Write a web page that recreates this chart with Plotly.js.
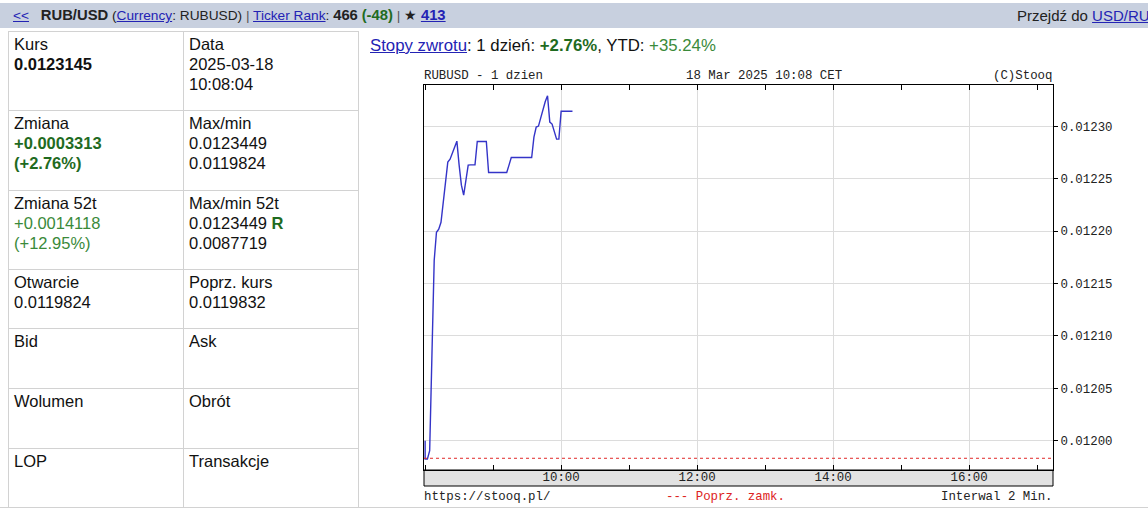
<!DOCTYPE html>
<html><head><meta charset="utf-8">
<script src="https://cdn.plot.ly/plotly-3.0.1.min.js"></script>
<style>
html,body{margin:0;padding:0;background:#fff;}
body{width:1148px;height:509px;position:relative;overflow:hidden;font-family:"Liberation Sans",Arial,sans-serif;color:#111;}
a{color:#2323b4;text-decoration:underline;}
#hdr{position:absolute;left:0;top:3px;width:1148px;height:25px;background:#c8d0df;font-size:13.7px;line-height:25px;white-space:nowrap;color:#222;}
#hdr b,#hdr .g1{font-size:14.8px;}
#hdr .l{position:absolute;left:13px;top:0;}
#hdr .r{position:absolute;left:1017px;top:0;font-size:15px;}
#hdr .sep{color:#555;}
table{position:absolute;left:8px;top:31px;border-collapse:collapse;font-size:16.5px;line-height:20px;table-layout:fixed;width:350px;}
td{border:1px solid #d2d2d2;vertical-align:top;padding:2px 5px 0 5px;overflow:hidden;white-space:nowrap;}
.g1{color:#1f6b1f;font-weight:bold;}
.g2{color:#3a8a3a;}
#stopy{position:absolute;left:370px;top:36px;font-size:16.8px;line-height:20px;white-space:nowrap;}
#bottomline{position:absolute;left:0;top:507px;width:1148px;height:1px;background:#d2d2d2;}
#chart{position:absolute;left:0;top:0;width:1148px;height:509px;z-index:2;}
</style>
</head><body>
<div id="hdr"><span class="l"><a style="margin-right:8px">&lt;&lt;</a> <b>RUB/USD</b> (<a>Currency</a>: RUBUSD) <span class="sep">|</span> <a>Ticker Rank</a>: <b>466</b> <span class="g1">(-48)</span> <span class="sep">|</span> ★ <b><a>413</a></b></span><span class="r">Przejdź do <a>USD/RUB</a></span></div>
<table>
<colgroup><col style="width:175px"><col style="width:175px"></colgroup>
<tr style="height:79px"><td>Kurs<br><b>0.0123145</b></td><td>Data<br>2025-03-18<br>10:08:04</td></tr>
<tr style="height:80px"><td>Zmiana<br><span class="g1">+0.0003313<br>(+2.76%)</span></td><td>Max/min<br>0.0123449<br>0.0119824</td></tr>
<tr style="height:79px"><td>Zmiana 52t<br><span class="g2">+0.0014118<br>(+12.95%)</span></td><td>Max/min 52t<br>0.0123449 <span class="g1">R</span><br>0.0087719</td></tr>
<tr style="height:59px"><td>Otwarcie<br>0.0119824</td><td>Poprz. kurs<br>0.0119832</td></tr>
<tr style="height:60px"><td>Bid</td><td>Ask</td></tr>
<tr style="height:60px"><td>Wolumen</td><td>Obrót</td></tr>
<tr style="height:59px"><td>LOP</td><td>Transakcje</td></tr>
</table>
<div id="stopy"><a>Stopy zwrotu</a>: 1 dzień: <span class="g1">+2.76%</span>, YTD: <span class="g2">+35.24%</span></div>
<div id="bottomline"></div>
<div id="chart"></div>
<script>
// ---- data ----
const sessionDate = "2025-03-18";
const times = [
 "08:00","08:00","08:02","08:04","08:06","08:08","08:10","08:12","08:14","08:16",
 "08:18","08:20","08:22","08:24","08:26","08:28","08:30","08:32","08:34","08:36",
 "08:38","08:40","08:42","08:44","08:46","08:48","08:50","08:52","08:54","08:56",
 "08:58","09:00","09:02","09:04","09:06","09:08","09:10","09:12","09:14","09:16",
 "09:18","09:20","09:22","09:24","09:26","09:28","09:30","09:32","09:34","09:36",
 "09:38","09:40","09:42","09:44","09:46","09:48","09:50","09:52","09:54","09:56",
 "09:58","10:00","10:02","10:04","10:06","10:08","10:10"
];
const rates = [
 0.0120000,0.0119824,0.0119824,0.0119904,0.0120813,0.0121721,0.0121989,0.0122018,0.0122085,0.0122295,
 0.0122506,0.0122659,0.0122687,0.0122745,0.0122802,0.0122859,0.0122630,0.0122439,0.0122343,0.0122506,
 0.0122630,0.0122633,0.0122633,0.0122633,0.0122856,0.0122856,0.0122856,0.0122856,0.0122856,0.0122560,
 0.0122560,0.0122560,0.0122560,0.0122560,0.0122560,0.0122560,0.0122560,0.0122560,0.0122630,0.0122703,
 0.0122703,0.0122703,0.0122703,0.0122703,0.0122703,0.0122703,0.0122703,0.0122703,0.0122703,0.0122898,
 0.0122993,0.0123003,0.0123084,0.0123163,0.0123238,0.0123293,0.0123041,0.0123022,0.0122955,0.0122878,
 0.0122878,0.0123145,0.0123145,0.0123145,0.0123145,0.0123145,0.0123145
];
const prevClose = 0.0119832;
const yTicks = [0.01200,0.01205,0.01210,0.01215,0.01220,0.01225,0.01230];
const xTickLabels = ["10:00","12:00","14:00","16:00"];

// ---- chart ----
const x = times.map(t => sessionDate + " " + t);
const mono = "Liberation Mono, DejaVu Sans Mono, monospace";
const trace = {
  x: x, y: rates, type: "scatter", mode: "lines",
  line: {color: "#3434c8", width: 1.4},
  hoverinfo: "skip", showlegend: false
};
const layout = {
  width: 1148, height: 509,
  margin: {l: 424, r: 95, t: 85, b: 39, pad: 0},
  paper_bgcolor: "rgba(0,0,0,0)", plot_bgcolor: "#ffffff",
  font: {family: mono, size: 12.4, color: "#222"},
  showlegend: false,
  xaxis: {
    type: "date",
    range: [sessionDate + " 07:59:00", sessionDate + " 17:14:00"],
    tickvals: xTickLabels.map(t => sessionDate + " " + t),
    ticktext: xTickLabels,
    ticks: "inside", ticklen: 5, tickcolor: "#000", tickwidth: 1,
    ticklabelstandoff: -5,
    minor: {dtick: 3600000, tick0: sessionDate + " 09:00", ticks: "inside", ticklen: 5, tickcolor: "#000", showgrid: false},
    showgrid: true, gridcolor: "#dcdcdc", gridwidth: 1,
    showline: true, linecolor: "#000", linewidth: 1, mirror: "ticks",
    zeroline: false, fixedrange: true,
    tickfont: {family: mono, size: 12.4, color: "#222"}
  },
  yaxis: {
    side: "right",
    range: [0.011972, 0.0123395],
    tickvals: yTicks,
    tickformat: ".5f",
    ticks: "outside", ticklen: 4, tickcolor: "#000",
    showgrid: true, gridcolor: "#dcdcdc", gridwidth: 1,
    showline: true, linecolor: "#000", linewidth: 1, mirror: true,
    zeroline: false, fixedrange: true,
    tickfont: {family: mono, size: 12.4, color: "#222"}
  },
  shapes: [
    {type: "rect", xref: "paper", yref: "paper", x0: 0, x1: 1, y0: -16/385, y1: 0,
     fillcolor: "#e2e2e2", line: {color: "#000", width: 1}, layer: "below"},
    {type: "line", xref: "paper", yref: "y", x0: 0, x1: 1, y0: prevClose, y1: prevClose,
     line: {color: "#e02828", width: 1, dash: "3px,3px"}, layer: "above"}
  ],
  annotations: [
    {text: "RUBUSD - 1 dzien", xref: "paper", yref: "paper", x: 0, y: 1, xanchor: "left", yanchor: "middle", yshift: 9, xshift: -2, showarrow: false},
    {text: "18 Mar 2025 10:08 CET", xref: "paper", yref: "paper", x: 0.54, y: 1, xanchor: "center", yanchor: "middle", yshift: 9, showarrow: false},
    {text: "(C)Stooq", xref: "paper", yref: "paper", x: 1, y: 1, xanchor: "right", yanchor: "middle", yshift: 9, xshift: 2, showarrow: false},
    {text: "https://stooq.pl/", xref: "paper", yref: "paper", x: 0, y: 0, xanchor: "left", yanchor: "middle", yshift: -27, xshift: -2, showarrow: false},
    {text: "--- Poprz. zamk.", xref: "paper", yref: "paper", x: 0.479, y: 0, xanchor: "center", yanchor: "middle", yshift: -27, showarrow: false, font: {family: mono, size: 12.4, color: "#dd2222"}},
    {text: "Interwal 2 Min.", xref: "paper", yref: "paper", x: 1, y: 0, xanchor: "right", yanchor: "middle", yshift: -27, xshift: 2, showarrow: false}
  ]
};
Plotly.newPlot("chart", [trace], layout, {staticPlot: true, displayModeBar: false});
</script>
</body></html>
